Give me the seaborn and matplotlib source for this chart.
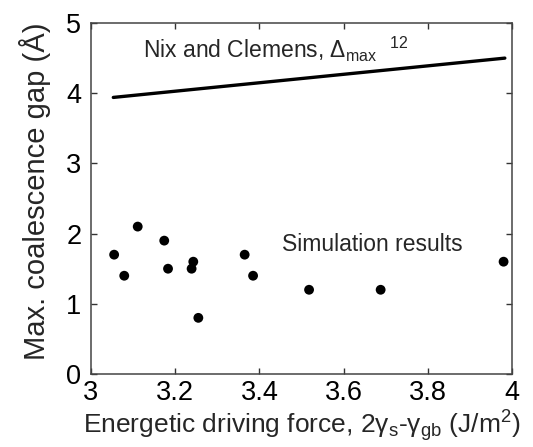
import numpy as np
import pandas as pd
import matplotlib
matplotlib.use('Agg')
import matplotlib.pyplot as plt
import seaborn as sns

# simulation results
sim_force = [3.055, 3.079, 3.111, 3.174, 3.183, 3.243, 3.239, 3.255, 3.365, 3.385, 3.518, 3.688, 3.980]
sim_gap = [1.70, 1.40, 2.10, 1.90, 1.50, 1.60, 1.50, 0.80, 1.70, 1.40, 1.20, 1.20, 1.60]

# Nix and Clemens prediction
nc_force = [3.053, 3.983]
nc_gap = [3.94, 4.50]

x_ticks = [3, 3.2, 3.4, 3.6, 3.8, 4]
y_ticks = [0, 1, 2, 3, 4, 5]

sns.set_style('ticks')
plt.rcParams['font.family'] = ['Liberation Sans', 'DejaVu Sans']
plt.rcParams['mathtext.default'] = 'regular'

fig = plt.figure(figsize=(5.33, 4.47), dpi=100)
ax = fig.add_axes([0.1707, 0.1633, 0.7899, 0.7852])

sns.lineplot(x=nc_force, y=nc_gap, ax=ax, color='black', linewidth=2.4)
sns.scatterplot(x=sim_force, y=sim_gap, ax=ax, color='black', s=50, edgecolor='none')

ax.set_xlim(3, 4)
ax.set_ylim(0, 5)
ax.set_xticks(x_ticks)
ax.set_xticklabels(['3', '3.2', '3.4', '3.6', '3.8', '4'])
ax.set_yticks(y_ticks)
ax.tick_params(direction='in', length=4, width=1, top=True, right=True,
               labelsize=19.5, colors='#333333', labelcolor='black')
ax.tick_params(axis='x', pad=4)
ax.tick_params(axis='y', pad=7)
for s in ax.spines.values():
    s.set_linewidth(1.1)
    s.set_color('#444444')

ax.text(3.124, 4.63, r'Nix and Clemens, Δ$_{max}$  $^{12}$', fontsize=16.5, va='center')
ax.text(3.454, 1.84, 'Simulation results', fontsize=16.5, va='center')

ax.set_xlabel(r'Energetic driving force, 2γ$_{s}$-γ$_{gb}$ (J/m$^{2}$)', fontsize=19, labelpad=2)
ax.set_ylabel('Max. coalescence gap (Å)', fontsize=21)
ax.yaxis.set_label_coords(-0.095, 0.52)

fig.savefig('out.png', dpi=100)
